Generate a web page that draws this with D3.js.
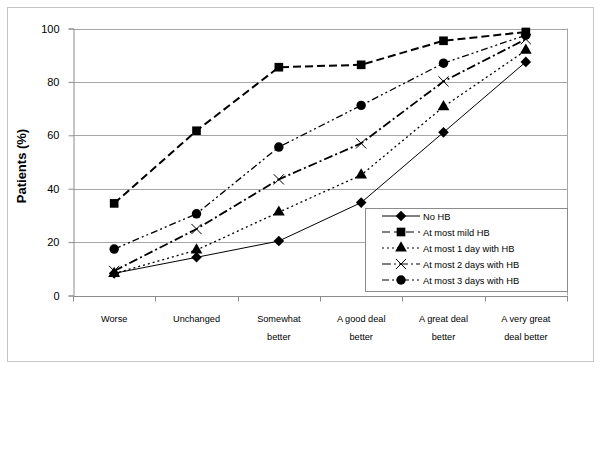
<!DOCTYPE html>
<html>
  <head>
    <style>
      body { margin: 0; background: #fff; }
      svg { font-family: Arial, "Liberation Sans", sans-serif; }
    </style>
  </head>
  <body>
    <script src="https://d3js.org/d3.v7.min.js"></script>
    <script type="text/javascript">
      const width = 600;
      const height = 450;

      const categories = [
        ['Worse'],
        ['Unchanged'],
        ['Somewhat', 'better'],
        ['A good deal', 'better'],
        ['A great deal', 'better'],
        ['A very great', 'deal better'],
      ];
      const yTicks = [0, 20, 40, 60, 80, 100];

      const seriesNames = ['No HB', 'At most mild HB', 'At most 1 day with HB', 'At most 2 days with HB', 'At most 3 days with HB'];
      const noHB = [8.3, 14.3, 20.4, 34.8, 61.1, 87.5];
      const mildHB = [34.5, 61.7, 85.5, 86.4, 95.4, 98.7];
      const oneDay = [8.2, 17.0, 31.2, 45.1, 70.7, 91.8];
      const twoDays = [9.2, 24.9, 43.5, 57.0, 80.2, 96.0];
      const threeDays = [17.4, 30.6, 55.6, 71.2, 87.0, 97.5];
      const seriesValues = [noHB, mildHB, oneDay, twoDays, threeDays];

      const styles = [
        { dash: null, width: 1, marker: 'diamond' },
        { dash: '8,4', width: 2, marker: 'square' },
        { dash: '2,3', width: 1.3, marker: 'triangle' },
        { dash: '9,3,2,3', width: 1.8, marker: 'cross' },
        { dash: '7,3,2,3,2,3', width: 1.3, marker: 'circle' },
      ];

      const margin = { left: 73, right: 33, top: 28, bottom: 155 };

      const svg = d3.select('body')
        .append('svg')
        .attr('width', width)
        .attr('height', height);

      // outer chart border
      svg.append('rect')
        .attr('x', 7.5).attr('y', 7.5)
        .attr('width', 586).attr('height', 354)
        .attr('fill', 'none')
        .attr('stroke', '#c4c4c4');

      const xScale = d3.scaleBand()
        .domain(d3.range(categories.length))
        .range([margin.left, width - margin.right]);

      const yScale = d3.scaleLinear()
        .domain([0, 100])
        .range([295.5, margin.top + 0.5]);

      const plotRight = width - margin.right;

      // gridlines
      svg.append('g')
        .selectAll('line')
        .data(yTicks.slice(1))
        .join('line')
        .attr('x1', margin.left).attr('x2', plotRight)
        .attr('y1', (d) => Math.round(yScale(d)) + 0.5)
        .attr('y2', (d) => Math.round(yScale(d)) + 0.5)
        .attr('stroke', '#a6a6a6');

      // plot right border
      svg.append('line')
        .attr('x1', plotRight + 0.5).attr('x2', plotRight + 0.5)
        .attr('y1', yScale(100)).attr('y2', yScale(0))
        .attr('stroke', '#a6a6a6');

      // y axis
      const yAxis = svg.append('g')
        .attr('transform', `translate(${margin.left + 0.5},0)`)
        .call(d3.axisLeft(yScale).tickValues(yTicks).tickSize(5).tickPadding(9));
      yAxis.selectAll('path, line').attr('stroke', '#8c8c8c');
      yAxis.selectAll('text').attr('font-size', 11).attr('fill', '#000')
        .attr('font-family', 'Arial, "Liberation Sans", sans-serif');

      // x axis
      const xAxisG = svg.append('g')
        .attr('transform', `translate(0,${Math.round(yScale(0)) + 0.5})`);
      xAxisG.append('line')
        .attr('x1', margin.left).attr('x2', plotRight + 1)
        .attr('stroke', '#8c8c8c');
      const bounds = d3.range(categories.length + 1)
        .map((i) => i < categories.length ? xScale(i) : xScale(i - 1) + xScale.bandwidth());
      xAxisG.selectAll('line.tick')
        .data(bounds)
        .join('line')
        .attr('class', 'tick')
        .attr('x1', (d) => Math.round(d) + 0.5).attr('x2', (d) => Math.round(d) + 0.5)
        .attr('y1', 0).attr('y2', 5)
        .attr('stroke', '#8c8c8c');

      const xLabels = xAxisG.selectAll('text')
        .data(categories)
        .join('text')
        .attr('text-anchor', 'middle')
        .attr('font-size', 9.2)
        .attr('fill', '#000')
        .attr('transform', (d, i) => `translate(${xScale(i) + xScale.bandwidth() / 2},0)`);
      xLabels.selectAll('tspan')
        .data((d) => d)
        .join('tspan')
        .attr('x', 0)
        .attr('y', (d, i) => 25 + i * 18)
        .text((d) => d);

      // y title
      svg.append('text')
        .attr('transform', `translate(26,166) rotate(-90)`)
        .attr('text-anchor', 'middle')
        .attr('font-size', 13)
        .attr('font-weight', 'bold')
        .text('Patients (%)');

      const diamondType = {
        draw(ctx, size) {
          const r = Math.sqrt(size / 2);
          ctx.moveTo(0, -r);
          ctx.lineTo(r, 0);
          ctx.lineTo(0, r);
          ctx.lineTo(-r, 0);
          ctx.closePath();
        },
      };

      const symbolFor = {
        diamond: d3.symbol().type(diamondType).size(56),
        square: d3.symbol().type(d3.symbolSquare).size(75),
        triangle: d3.symbol().type(d3.symbolTriangle).size(60),
        circle: d3.symbol().type(d3.symbolCircle).size(70),
        cross: d3.symbol().type(d3.symbolX).size(70),
      };

      function drawMarker(g, type) {
        const p = g.append('path').attr('d', symbolFor[type]());
        if (type === 'cross') {
          p.attr('fill', 'none').attr('stroke', '#000').attr('stroke-width', 1);
        } else {
          p.attr('fill', '#000');
        }
      }

      const line = d3.line()
        .x((d, i) => xScale(i) + xScale.bandwidth() / 2)
        .y((d) => yScale(d));

      // series
      const seriesG = svg.append('g')
        .selectAll('g')
        .data(seriesValues)
        .join('g');

      seriesG.append('path')
        .attr('d', line)
        .attr('fill', 'none')
        .attr('stroke', '#000')
        .attr('stroke-width', (d, i) => styles[i].width)
        .attr('stroke-dasharray', (d, i) => styles[i].dash);

      seriesG.each(function (vals, si) {
        d3.select(this).selectAll('g.pt')
          .data(vals)
          .join('g')
          .attr('class', 'pt')
          .attr('transform', (d, i) => `translate(${xScale(i) + xScale.bandwidth() / 2},${yScale(d)})`)
          .each(function () { drawMarker(d3.select(this), styles[si].marker); });
      });

      // legend
      const legend = svg.append('g');
      legend.append('rect')
        .attr('x', 365.5).attr('y', 208.5)
        .attr('width', plotRight - 365).attr('height', 83)
        .attr('fill', '#fff')
        .attr('stroke', '#8c8c8c');

      const legendRows = legend.selectAll('g.row')
        .data(seriesNames)
        .join('g')
        .attr('class', 'row')
        .attr('transform', (d, i) => `translate(0,${216 + i * 16})`);

      legendRows.append('line')
        .attr('x1', 382).attr('x2', 420)
        .attr('stroke', '#000')
        .attr('stroke-width', (d, i) => Math.min(styles[i].width, 1.2))
        .attr('stroke-dasharray', (d, i) => styles[i].dash);

      legendRows.each(function (d, i) {
        const m = d3.select(this).append('g').attr('transform', 'translate(401,0)');
        drawMarker(m, styles[i].marker);
      });

      legendRows.append('text')
        .attr('x', 423)
        .attr('y', 3.5)
        .attr('font-size', 9.3)
        .text((d) => d);
    </script>
  </body>
</html>
